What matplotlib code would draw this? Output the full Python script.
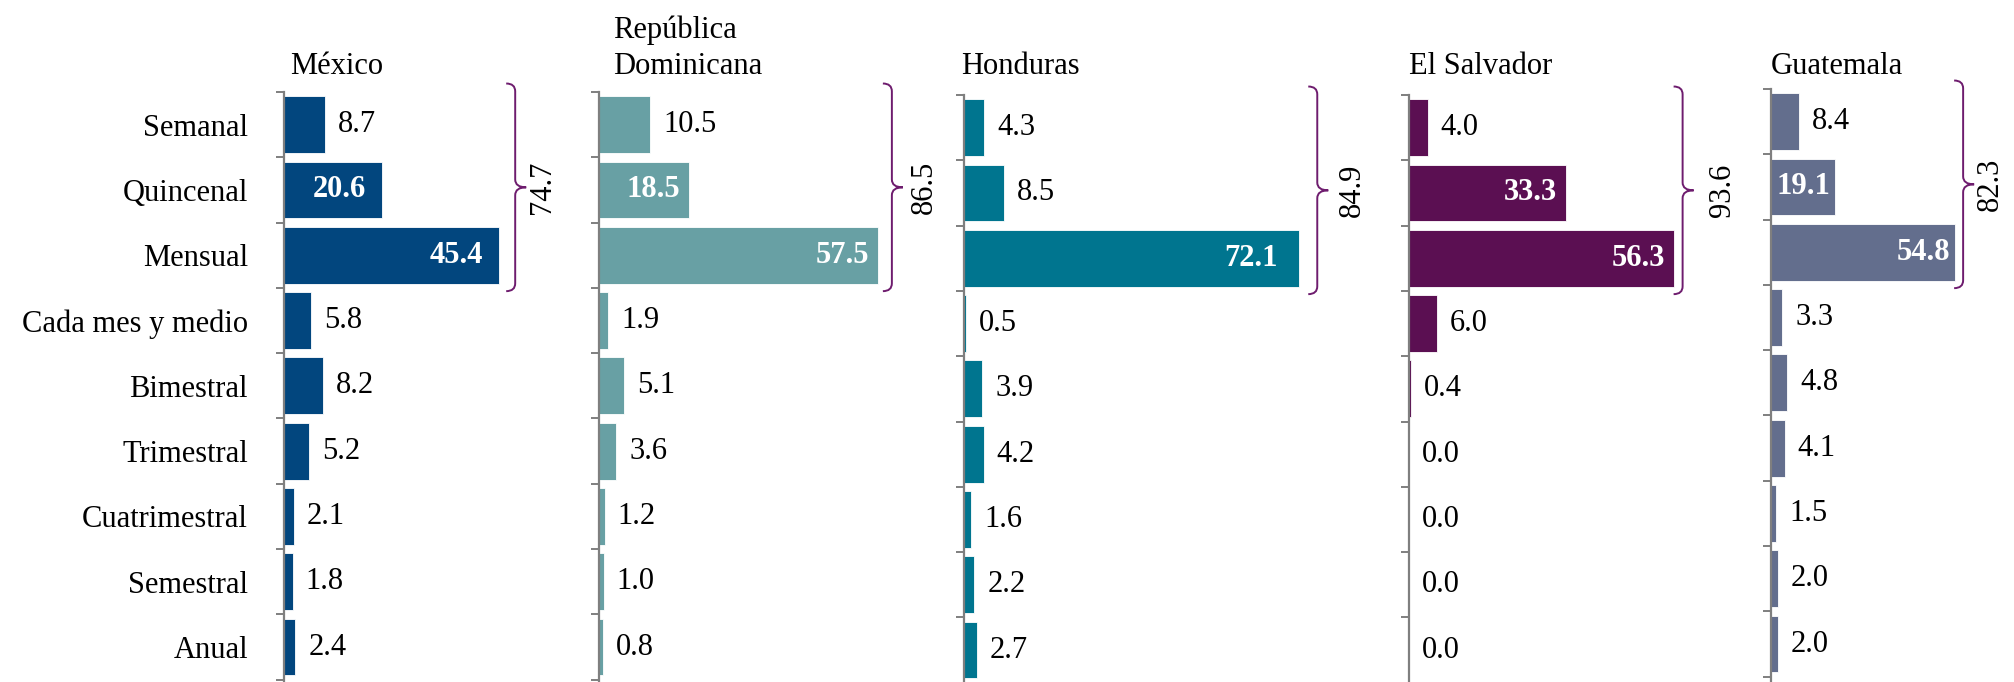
import numpy as np
import matplotlib
matplotlib.use("Agg")
import matplotlib.pyplot as plt
from matplotlib.path import Path
from matplotlib.patches import PathPatch

plt.rcParams['font.family'] = ['Liberation Serif', 'DejaVu Serif']

categorias = ["Semanal", "Quincenal", "Mensual", "Cada mes y medio", "Bimestral",
              "Trimestral", "Cuatrimestral", "Semestral", "Anual"]
paises = ["México", "República\nDominicana", "Honduras", "El Salvador", "Guatemala"]
mexico = [8.7, 20.6, 45.4, 5.8, 8.2, 5.2, 2.1, 1.8, 2.4]
rep_dominicana = [10.5, 18.5, 57.5, 1.9, 5.1, 3.6, 1.2, 1.0, 0.8]
honduras = [4.3, 8.5, 72.1, 0.5, 3.9, 4.2, 1.6, 2.2, 2.7]
el_salvador = [4.0, 33.3, 56.3, 6.0, 0.4, 0.0, 0.0, 0.0, 0.0]
guatemala = [8.4, 19.1, 54.8, 3.3, 4.8, 4.1, 1.5, 2.0, 2.0]
series = [mexico, rep_dominicana, honduras, el_salvador, guatemala]

colores = ["#02467e", "#68a0a4", "#00758f", "#5b0f52", "#636e8d"]
brace_color = "#6e1c6e"

# layout in pixels of the 2015x682 figure
W, H = 2015, 682
spine_x = [284, 599, 964, 1409, 1771]
top_y = [92, 92, 95, 95, 89]
px_per_unit = [4.74, 4.85, 4.65, 4.70, 3.36]
title_dx = [6, 14, -3, 0, 0]
pad_in = [16, 9, 22, 9, 5]
brace_dx = [16, 14, 18, 9, 8]
suma_dx = [27, 33, 35, 40, 27]
slot = 65.3
ax_w = 420
fs = 22

fig = plt.figure(figsize=(W / 100, H / 100), dpi=100)
y = np.arange(len(categorias))

for k in range(len(series)):
    vals = series[k]
    h_px = 690 - top_y[k]
    ax = fig.add_axes([spine_x[k] / W, (H - top_y[k] - h_px) / H, ax_w / W, h_px / H])
    ax.patch.set_visible(False)
    ax.barh(y, vals, height=0.87, color=colores[k], edgecolor="white", linewidth=0.6)
    ax.set_xlim(0, ax_w / px_per_unit[k])
    ax.set_ylim(-0.5 + h_px / slot, -0.5)
    upx = 1.0 / px_per_unit[k]

    for s in ["top", "right", "bottom"]:
        ax.spines[s].set_visible(False)
    ax.spines["left"].set_color("#7f7f7f")
    ax.spines["left"].set_linewidth(1.6)
    ax.set_xticks([])
    ax.set_yticks(np.arange(len(categorias) + 1) - 0.5)
    ax.set_yticklabels([])
    ax.tick_params(axis="y", which="major", length=6, width=1.4, color="#7f7f7f", direction="out")
    ax.set_yticks(y, minor=True)
    if k == 0:
        ax.set_yticklabels(categorias, minor=True, fontsize=fs)
        ax.tick_params(axis="y", which="minor", length=0, pad=26)
    else:
        ax.set_yticklabels([], minor=True)
        ax.tick_params(axis="y", which="minor", length=0)

    for i, v in enumerate(vals):
        if v > 15:
            ax.text(v - pad_in[k] * upx, i, "%.1f" % v, ha="right", va="center", color="white",
                    fontsize=fs, fontweight="bold")
        else:
            ax.text(v + 13 * upx, i, "%.1f" % v, ha="left", va="center", color="black",
                    fontsize=fs)

    # brace over the first three categories
    x0 = max(vals[:3]) + brace_dx[k] * upx
    ytop, ybot = -0.63, 2.55
    ymid = (ytop + ybot) / 2
    c = 0.12
    verts = [(x0 - 9 * upx, ytop), (x0, ytop), (x0, ytop + c),
             (x0, ymid - c), (x0, ymid), (x0 + 11 * upx, ymid),
             (x0, ymid), (x0, ymid + c),
             (x0, ybot - c), (x0, ybot), (x0 - 9 * upx, ybot)]
    codes = [Path.MOVETO, Path.CURVE3, Path.CURVE3,
             Path.LINETO, Path.CURVE3, Path.CURVE3,
             Path.CURVE3, Path.CURVE3,
             Path.LINETO, Path.CURVE3, Path.CURVE3]
    ax.add_patch(PathPatch(Path(verts, codes), fill=False, edgecolor=brace_color,
                           linewidth=1.4, clip_on=False))
    ax.text(x0 + suma_dx[k] * upx, ymid, "%.1f" % sum(vals[:3]), rotation=90, ha="center",
            va="center", fontsize=fs, clip_on=False)

    fig.text((spine_x[k] + title_dx[k]) / W, 1 - 74 / H, paises[k], ha="left",
             va="baseline", fontsize=fs, linespacing=1.3)

fig.savefig("out.png", dpi=100)
